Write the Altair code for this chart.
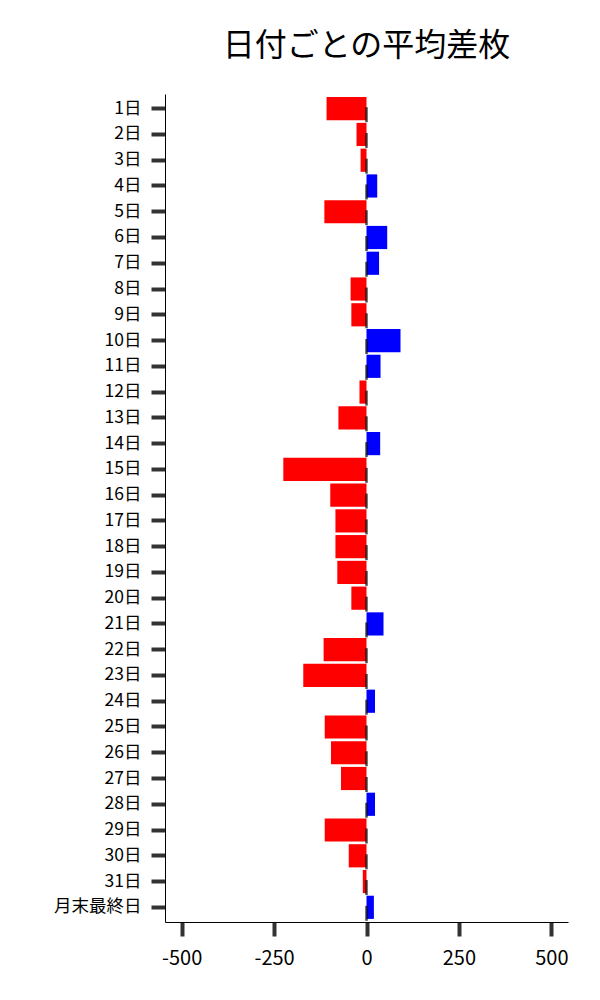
import altair as alt
import pandas as pd

days = [f"{i}日" for i in range(1, 32)] + ["月末最終日"]
values = [-108, -27, -16, 29, -114, 56, 34, -43, -41, 92,
          38, -19, -76, 37, -225, -98, -84, -84, -79, -41,
          46, -116, -171, 23, -113, -96, -69, 23, -113, -48,
          -10, 20]
x_ticks = [-500, -250, 0, 250, 500]

df = pd.DataFrame({"day": days, "value": values})
df["sign"] = ["pos" if v > 0 else "neg" for v in values]
df["zero"] = 0

font = "Noto Sans CJK JP"

y_enc = alt.Y("day:N", sort=days, title=None,
              scale=alt.Scale(paddingInner=0.1, paddingOuter=0.12),
              axis=alt.Axis(labelFont=font, labelFontSize=17.5, labelColor="black",
                            tickSize=14, tickWidth=4, tickColor="#333333",
                            labelPadding=10, domainColor="black", domainWidth=1,
                            grid=False))

bars = alt.Chart(df).mark_bar().encode(
    x=alt.X("value:Q", title=None,
            scale=alt.Scale(domain=[-545, 545], nice=False, zero=False),
            axis=alt.Axis(values=x_ticks, labelFont=font, labelFontSize=20,
                          labelExpr="'' + datum.value",
                          labelColor="black", tickSize=14, tickWidth=4,
                          tickColor="#333333", labelPadding=12,
                          domainColor="black", domainWidth=1, grid=False)),
    y=y_enc,
    color=alt.Color("sign:N", scale=alt.Scale(domain=["neg", "pos"],
                                              range=["#ff0000", "#0000ff"]),
                    legend=None),
)

marks = alt.Chart(df).mark_tick(color="black", thickness=2.5, size=15, yOffset=6).encode(
    x="zero:Q",
    y=alt.Y("day:N", sort=days),
)

chart = (bars + marks).properties(
    width=403, height=828,
    title=alt.TitleParams("日付ごとの平均差枚", font=font, fontSize=32,
                          fontWeight="normal", color="black", offset=31,
                          anchor="middle"),
    padding={"left": 45, "top": 22, "right": 5, "bottom": 5},
).configure_view(stroke=None)

chart.save("out.html", embed_options={"renderer": "svg", "actions": False})
